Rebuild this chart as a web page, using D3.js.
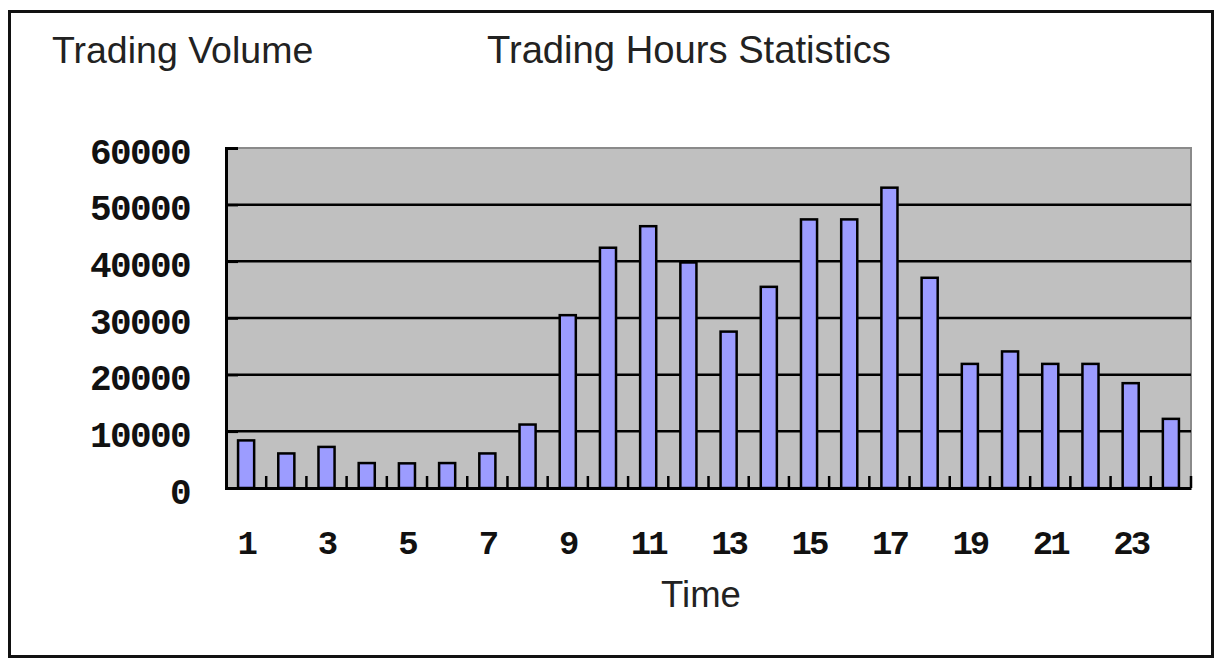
<!DOCTYPE html>
<html>
<head>
<meta charset="utf-8">
<script src="https://cdn.jsdelivr.net/npm/d3@7"></script>
<style>
  html, body { margin: 0; padding: 0; background: #fff; }
  svg { display: block; }
</style>
</head>
<body>
<svg id="chart" width="1224" height="672"></svg>
<script>
const hours = d3.range(1, 25);
const volumes = [8400, 6100, 7250, 4400, 4350, 4400, 6100, 11200,
                 30500, 42400, 46200, 39800, 27600, 35500, 47400, 47400,
                 53000, 37100, 21900, 24100, 21900, 21900, 18500, 12200];
const yTicks = [0, 10000, 20000, 30000, 40000, 50000, 60000];
const xLabels = [1, 3, 5, 7, 9, 11, 13, 15, 17, 19, 21, 23];
const titleLeft = "Trading Volume";
const titleMain = "Trading Hours Statistics";
const xTitle = "Time";

const svg = d3.select("#chart");
const plot = { left: 226, right: 1191, top: 148, bottom: 488 };

// outer frame
svg.append("rect").attr("x", 9.5).attr("y", 11.5).attr("width", 1203).attr("height", 645)
  .attr("fill", "#fff").attr("stroke", "#111").attr("stroke-width", 3);

const x = d3.scaleBand().domain(hours).range([plot.left, plot.right])
  .paddingInner(0.6).paddingOuter(0.3);
const y = d3.scaleLinear().domain([0, 60000]).range([plot.bottom, plot.top]);

// plot background
svg.append("rect").attr("x", plot.left).attr("y", plot.top)
  .attr("width", plot.right - plot.left).attr("height", plot.bottom - plot.top)
  .attr("fill", "#c0c0c0");
// top & right border (gray)
svg.append("path")
  .attr("d", `M${plot.left},${plot.top}H${plot.right}V${plot.bottom}`)
  .attr("fill", "none").attr("stroke", "#8a8a8a").attr("stroke-width", 2);

// gridlines
svg.append("g").selectAll("line").data(yTicks.filter(v => v > 0 && v < 60000)).join("line")
  .attr("x1", plot.left).attr("x2", plot.right)
  .attr("y1", d => y(d)).attr("y2", d => y(d))
  .attr("stroke", "#000").attr("stroke-width", 2.5);

// bars
svg.append("g").selectAll("rect").data(hours).join("rect")
  .attr("x", d => x(d)).attr("width", x.bandwidth())
  .attr("y", (d, i) => y(volumes[i])).attr("height", (d, i) => y(0) - y(volumes[i]))
  .attr("fill", "#9c9cff").attr("stroke", "#000").attr("stroke-width", 2.5);

// x-axis tick marks at category boundaries (inward)
const boundaries = hours.map(h => x(h) - x.step() * x.paddingInner() / 2 + x.step());
svg.append("g").selectAll("line").data(boundaries).join("line")
  .attr("x1", d => d).attr("x2", d => d)
  .attr("y1", plot.bottom).attr("y2", plot.bottom - 12)
  .attr("stroke", "#000").attr("stroke-width", 2.5);

// y axis
const yAxis = svg.append("g").attr("transform", `translate(${plot.left},0)`)
  .call(d3.axisLeft(y).tickValues(yTicks).tickSize(-12).tickPadding(36).tickFormat(d3.format("d")));
yAxis.select(".domain").attr("stroke", "#000").attr("stroke-width", 3);
yAxis.selectAll(".tick line").attr("stroke", "#000").attr("stroke-width", 2.5);
yAxis.selectAll("text").attr("font-family", "Liberation Mono").attr("font-weight", "bold")
  .attr("font-size", 36).attr("letter-spacing", -1.6).attr("dy", "0.42em").attr("fill", "#111");

// x axis
const xAxis = svg.append("g").attr("transform", `translate(0,${plot.bottom})`)
  .call(d3.axisBottom(x).tickValues(xLabels).tickSize(0).tickPadding(42));
xAxis.select(".domain").attr("stroke", "#000").attr("stroke-width", 3);
xAxis.selectAll("text").attr("font-family", "Liberation Mono").attr("font-weight", "bold")
  .attr("font-size", 34).attr("letter-spacing", -3).attr("fill", "#111");

// titles
const tf = "Liberation Sans";
svg.append("text").attr("x", 52).attr("y", 63).text(titleLeft)
  .attr("font-family", tf).attr("font-size", 37.5).attr("fill", "#222");
svg.append("text").attr("x", 487).attr("y", 63).text(titleMain)
  .attr("font-family", tf).attr("font-size", 38.2).attr("fill", "#222");
svg.append("text").attr("x", 701).attr("y", 607).attr("text-anchor", "middle").text(xTitle)
  .attr("font-family", tf).attr("font-size", 36.5).attr("fill", "#222");
</script>
</body>
</html>
